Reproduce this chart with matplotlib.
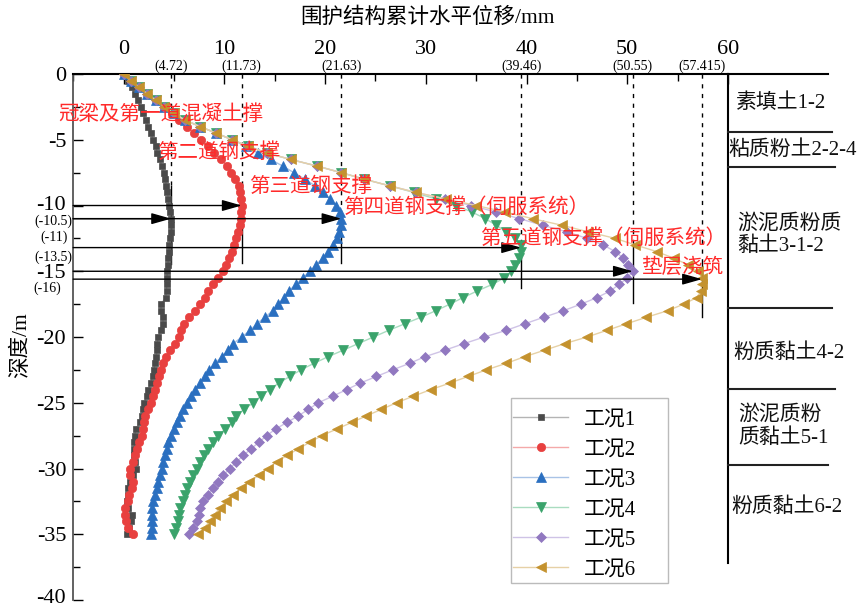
import matplotlib
matplotlib.use('Agg')
import matplotlib.pyplot as plt
from matplotlib.ticker import MultipleLocator
from matplotlib.patches import Rectangle
from matplotlib.transforms import ScaledTranslation

plt.rcParams['font.family'] = ['Liberation Serif', 'Noto Sans CJK SC']
plt.rcParams['axes.unicode_minus'] = False
plt.rcParams['font.size'] = 15

# depth of each reading (m), every 0.5 m
depth = [0, -0.5, -1, -1.5, -2, -2.5, -3, -3.5, -4, -4.5,
         -5, -5.5, -6, -6.5, -7, -7.5, -8, -8.5, -9, -9.5,
         -10, -10.5, -11, -11.5, -12, -12.5, -13, -13.5, -14, -14.5,
         -15, -15.5, -16, -16.5, -17, -17.5, -18, -18.5, -19, -19.5,
         -20, -20.5, -21, -21.5, -22, -22.5, -23, -23.5, -24, -24.5,
         -25, -25.5, -26, -26.5, -27, -27.5, -28, -28.5, -29, -29.5,
         -30, -30.5, -31, -31.5, -32, -32.5, -33, -33.5, -34, -34.5, -35]

case1 = [0, 0.45, 0.8, 1.1, 1.4, 1.7, 1.95, 2.2, 2.45, 2.7,
         2.95, 3.2, 3.35, 3.6, 3.8, 4.0, 4.15, 4.25, 4.35, 4.45,
         4.5, 4.6, 4.7, 4.72, 4.7, 4.6, 4.55, 4.5, 4.45, 4.4,
         4.35, 4.3, 4.28, 4.28, 4.18, 3.72, 3.72, 3.88, 3.95, 3.72,
         3.45, 3.35, 3.35, 3.22, 3.12, 3.02, 2.89, 2.69, 2.46, 2.3,
         2.06, 1.96, 1.8, 1.63, 1.2, 1.13, 1.07, 1.07, 1.07, 1.13,
         1.24, 0.9, 0.64, 0.48, 0.41, 0.38, 0.48, 0.8, 0.7, 0.58, 0.31]
case2 = [0, 0.72, 1.5, 2.35, 3.2, 4.0, 4.8, 5.5, 6.3, 6.95,
         7.7, 8.4, 9.0, 9.7, 10.3, 10.7, 11.1, 11.45, 11.6, 11.7,
         11.73, 11.7, 11.65, 11.55, 11.4, 11.2, 11.0, 10.75, 10.5, 10.2,
         9.85, 9.4, 8.9, 8.4, 8.1, 7.6, 7.1, 6.5, 5.95, 5.7,
         5.5, 5.1, 4.6, 4.2, 3.9, 3.7, 3.55, 3.35, 3.1, 2.9,
         2.7, 2.45, 2.15, 2.05, 1.95, 1.8, 1.55, 1.3, 1.1, 0.9,
         0.6, 0.65, 0.9, 0.8, 0.55, 0.4, 0.15, 0.15, 0.25, 0.4, 0.9]
case3 = [0, 0.72, 1.5, 2.35, 3.2, 4.0, 5.0, 6.1, 7.6, 9.2,
         10.8, 12.2, 13.3, 14.6, 15.8, 16.9, 18.0, 19.0, 19.8, 20.5,
         21.1, 21.5, 21.63, 21.6, 21.4, 21.2, 20.8, 20.3, 19.8, 19.1,
         18.5, 17.8, 17.1, 16.4, 15.9, 15.36, 14.8, 14.04, 13.21, 12.55,
         11.73, 10.9, 10.4, 9.74, 9.08, 8.52, 8.08, 7.59, 7.09, 6.66,
         6.33, 5.93, 5.6, 5.34, 5.0, 4.68, 4.45, 4.28, 4.11, 3.95,
         3.78, 3.62, 3.45, 3.35, 3.12, 2.96, 2.79, 2.79, 2.79, 2.79, 2.69]
case4 = [0, 0.72, 1.5, 2.35, 3.2, 4.0, 5.0, 6.1, 7.6, 9.2,
         10.8, 12.4, 14.2, 16.6, 19.2, 21.6, 23.9, 26.4, 28.8, 31.0,
         33.0, 34.6, 35.9, 37.0, 38.0, 38.9, 39.4, 39.46, 39.3, 38.9,
         38.5, 37.8, 36.6, 35.1, 33.7, 32.4, 31.0, 29.5, 27.9, 26.3,
         24.8, 23.3, 21.8, 20.3, 18.9, 17.6, 16.5, 15.4, 14.5, 13.6,
         12.88, 11.96, 11.16, 10.73, 10.07, 9.41, 8.91, 8.42, 7.99, 7.59,
         7.26, 6.93, 6.6, 6.33, 6.1, 5.87, 5.6, 5.54, 5.44, 5.21, 5.0]
case5 = [0, 0.72, 1.5, 2.35, 3.2, 4.0, 5.0, 6.1, 7.6, 9.2,
         10.8, 12.4, 14.2, 16.6, 19.2, 21.6, 23.9, 26.4, 29.0, 31.9,
         34.5, 37.0, 39.3, 41.6, 44.0, 46.0, 47.6, 48.8, 49.6, 50.1,
         50.55, 50.0, 49.2, 48.3, 47.0, 45.4, 43.65, 41.7, 39.8, 37.96,
         35.8, 33.8, 31.9, 29.9, 28.4, 26.7, 25.1, 23.5, 22.15, 20.76,
         19.33, 18.34, 17.35, 16.2, 15.1, 14.2, 13.45, 12.65, 11.9, 11.2,
         10.55, 9.9, 9.35, 8.85, 8.4, 7.92, 7.6, 7.45, 7.26, 6.93, 6.53]
case6 = [0, 0.72, 1.5, 2.35, 3.2, 4.0, 5.0, 6.1, 7.6, 9.2,
         10.8, 12.4, 14.2, 16.6, 19.2, 21.6, 23.9, 26.4, 29.0, 32.0,
         35.0, 37.9, 40.6, 43.5, 46.1, 48.8, 50.8, 52.9, 54.6, 56.0,
         57.0, 57.415, 57.4, 57.3, 56.9, 55.6, 54.0, 51.9, 49.9, 47.95,
         46.0, 43.8, 41.8, 39.8, 38.0, 36.0, 34.2, 32.4, 30.5, 28.76,
         27.1, 25.6, 24.1, 22.64, 21.16, 19.67, 18.5, 17.35, 16.25, 15.2,
         14.3, 13.45, 12.5, 11.7, 10.9, 10.17, 9.55, 9.05, 8.55, 8.05, 7.42]

labels = ['工况1', '工况2', '工况3', '工况4', '工况5', '工况6']

# maximum displacement of each stage and its label
peaks = [4.72, 11.73, 21.63, 39.46, 50.55, 57.415]
peak_labels = ['(4.72)', '(11.73)', '(21.63)', '(39.46)', '(50.55)', '(57.415)']
stage_names = ['冠梁及第一道混凝土撑', '第二道钢支撑', '第三道钢支撑',
               '第四道钢支撑（伺服系统）', '第五道钢支撑（伺服系统）', '垫层浇筑']
depth_labels = ['(-10.5)', '(-11)', '(-13.5)', '(-16)']

soil_names = ['素填土1-2', '粘质粉土2-2-4', '淤泥质粉质\n黏土3-1-2',
              '粉质黏土4-2', '淤泥质粉\n质黏土5-1', '粉质黏土6-2']
soil_bounds = [-4.39, -7.05, -17.82, -23.95, -29.73]

fig = plt.figure(figsize=(8.62, 6.08), dpi=100)
ax = fig.add_axes([0.0849, 0.01316, 0.7597, 0.8651])

colors = ['#4a4a4a', '#e8403f', '#2a6fc0', '#3aa36b', '#9178c0', '#c4922e']
light = ['#b4b4b4', '#f4a9a9', '#a9c3e6', '#a9dcc0', '#cfc3e6', '#e6d1a6']
markers = ['s', 'o', '^', 'v', 'D', '<']
msizes = [5, 6, 6.5, 6.5, 5, 6.5]
series = [case1, case2, case3, case4, case5, case6]

for vals, lab, c, lc, m, ms in zip(series, labels, colors, light, markers, msizes):
    ax.plot(vals, depth, color=lc, lw=1, marker=m, ms=ms, mfc=c, mec=c,
            mew=0.5, label=lab, zorder=3)

ax.set_xlim(-5, 60)
ax.set_ylim(-40, 0)
ax.set_xticks([0, 10, 20, 30, 40, 50, 60])
ax.set_yticks([0, -5, -10, -15, -20, -25, -30, -35, -40])
ax.xaxis.set_minor_locator(MultipleLocator(5))
ax.yaxis.set_minor_locator(MultipleLocator(2.5))
ax.xaxis.tick_top()
ax.tick_params(axis='x', which='both', direction='in', top=True, bottom=False,
               labeltop=True, labelbottom=False, pad=11, labelsize=16)
ax.tick_params(axis='y', which='both', direction='in', right=False, labelsize=16, pad=5)
ax.tick_params(which='major', length=7, width=1)
ax.tick_params(which='minor', length=5, width=1)

ax.spines['right'].set_visible(False)
ax.spines['bottom'].set_visible(False)
ax.spines['top'].set_linewidth(1.5)
ax.spines['left'].set_color('#555555')
ax.spines['left'].set_linewidth(1.3)

# soil column on the right
ax.plot([60, 69.9], [0, 0], color='k', lw=1.5, clip_on=False)
ax.plot([60, 60], [0, -37.2], color='k', lw=1.5, clip_on=False)
for yb, xe in zip(soil_bounds, [70.3, 70.6, 70.3, 70.6, 69.9]):
    ax.plot([60, xe], [yb, yb], color='#222222', lw=1.5, clip_on=False)

soil_pos = [(65.2, -2.2, 'center'), (66.4, -5.78, 'center'), (60.9, -12.24, 'left'),
            (66.0, -21.2, 'center'), (61.0, -26.8, 'left'), (65.8, -32.9, 'center')]
for name, (sx, sy, ha) in zip(soil_names, soil_pos):
    ax.text(sx, sy, name, ha=ha, va='center', fontsize=15, linespacing=1.2,
            clip_on=False, color='#111111')

# dashed / solid guide lines at the peak of each stage
solid_spans = [(-8.5, -14.45), (-8.7, -14.4), (-10.8, -14.4),
               (-12.7, -16.3), (-13.0, -17.45), (-14.4, -18.45)]
for pk, plab, (s0, s1) in zip(peaks, peak_labels, solid_spans):
    ax.plot([pk, pk], [0, s0], color='k', lw=1, ls=(0, (3, 4)), zorder=2)
    ax.plot([pk, pk], [s0, s1], color='k', lw=1, zorder=2)
    ax.text(pk, 0.62, plab, ha='center', va='center', fontsize=10, clip_on=False)

# horizontal arrows from the wall to the peak
arrows = [(-10.0, 11.73), (-11.0, 4.72), (-11.0, 21.63),
          (-13.2, 39.46), (-15.0, 50.55), (-15.6, 57.415)]
for ya, xa in arrows:
    ax.annotate('', xy=(xa, ya), xytext=(-5, ya),
                arrowprops=dict(arrowstyle='-|>,head_length=0.6,head_width=0.17',
                                color='k', lw=1, mutation_scale=20,
                                shrinkA=0, shrinkB=0), zorder=4)

for lab, (lx, ly) in zip(depth_labels, [(-6.95, -11.2), (-6.85, -12.45),
                                        (-6.95, -13.92), (-7.6, -16.3)]):
    ax.text(lx, ly, lab, ha='center', va='center', fontsize=10, clip_on=False)

# construction stage names in red
name_pos = [(-6.5, -3.1), (3.3, -6.0), (12.5, -8.6),
            (21.8, -10.2), (35.4, -12.55), (51.4, -14.75)]
for name, (nx, ny) in zip(stage_names, name_pos):
    ax.text(nx, ny, name, ha='left', va='center', fontsize=14.8, color='#ff2a2a',
            clip_on=False, zorder=5)

fig.text(428 / 862, 1 - 18 / 608, '围护结构累计水平位移/mm', ha='center', va='center',
         fontsize=15.5)
fig.text(21 / 862, 1 - 345 / 608, '深度/m', ha='center', va='center',
         rotation=90, fontsize=15.5)

# legend with a hand drawn frame
leg = ax.legend(loc='upper left', bbox_to_anchor=(513 / 862, 1 - 410 / 608),
                bbox_transform=fig.transFigure, fontsize=15, frameon=False,
                handlelength=2.65, handletextpad=0.75, labelspacing=0.5,
                borderpad=0, borderaxespad=0)
fig.patches.append(Rectangle((511 / 862, 1 - 583 / 608), 157 / 862, 185 / 608,
                             transform=fig.transFigure, fill=False,
                             edgecolor='#bbbbbb', lw=1))

# lift the lowest depth label a little so it stays inside the picture
fig.canvas.draw()
for t in ax.get_yticklabels():
    if t.get_text() == '-40':
        t.set_transform(t.get_transform() + ScaledTranslation(0, 3 / 72, fig.dpi_scale_trans))
    if t.get_text() == '-10':
        t.set_transform(t.get_transform() + ScaledTranslation(0, 1.5 / 72, fig.dpi_scale_trans))

fig.savefig('out.png', dpi=100)
